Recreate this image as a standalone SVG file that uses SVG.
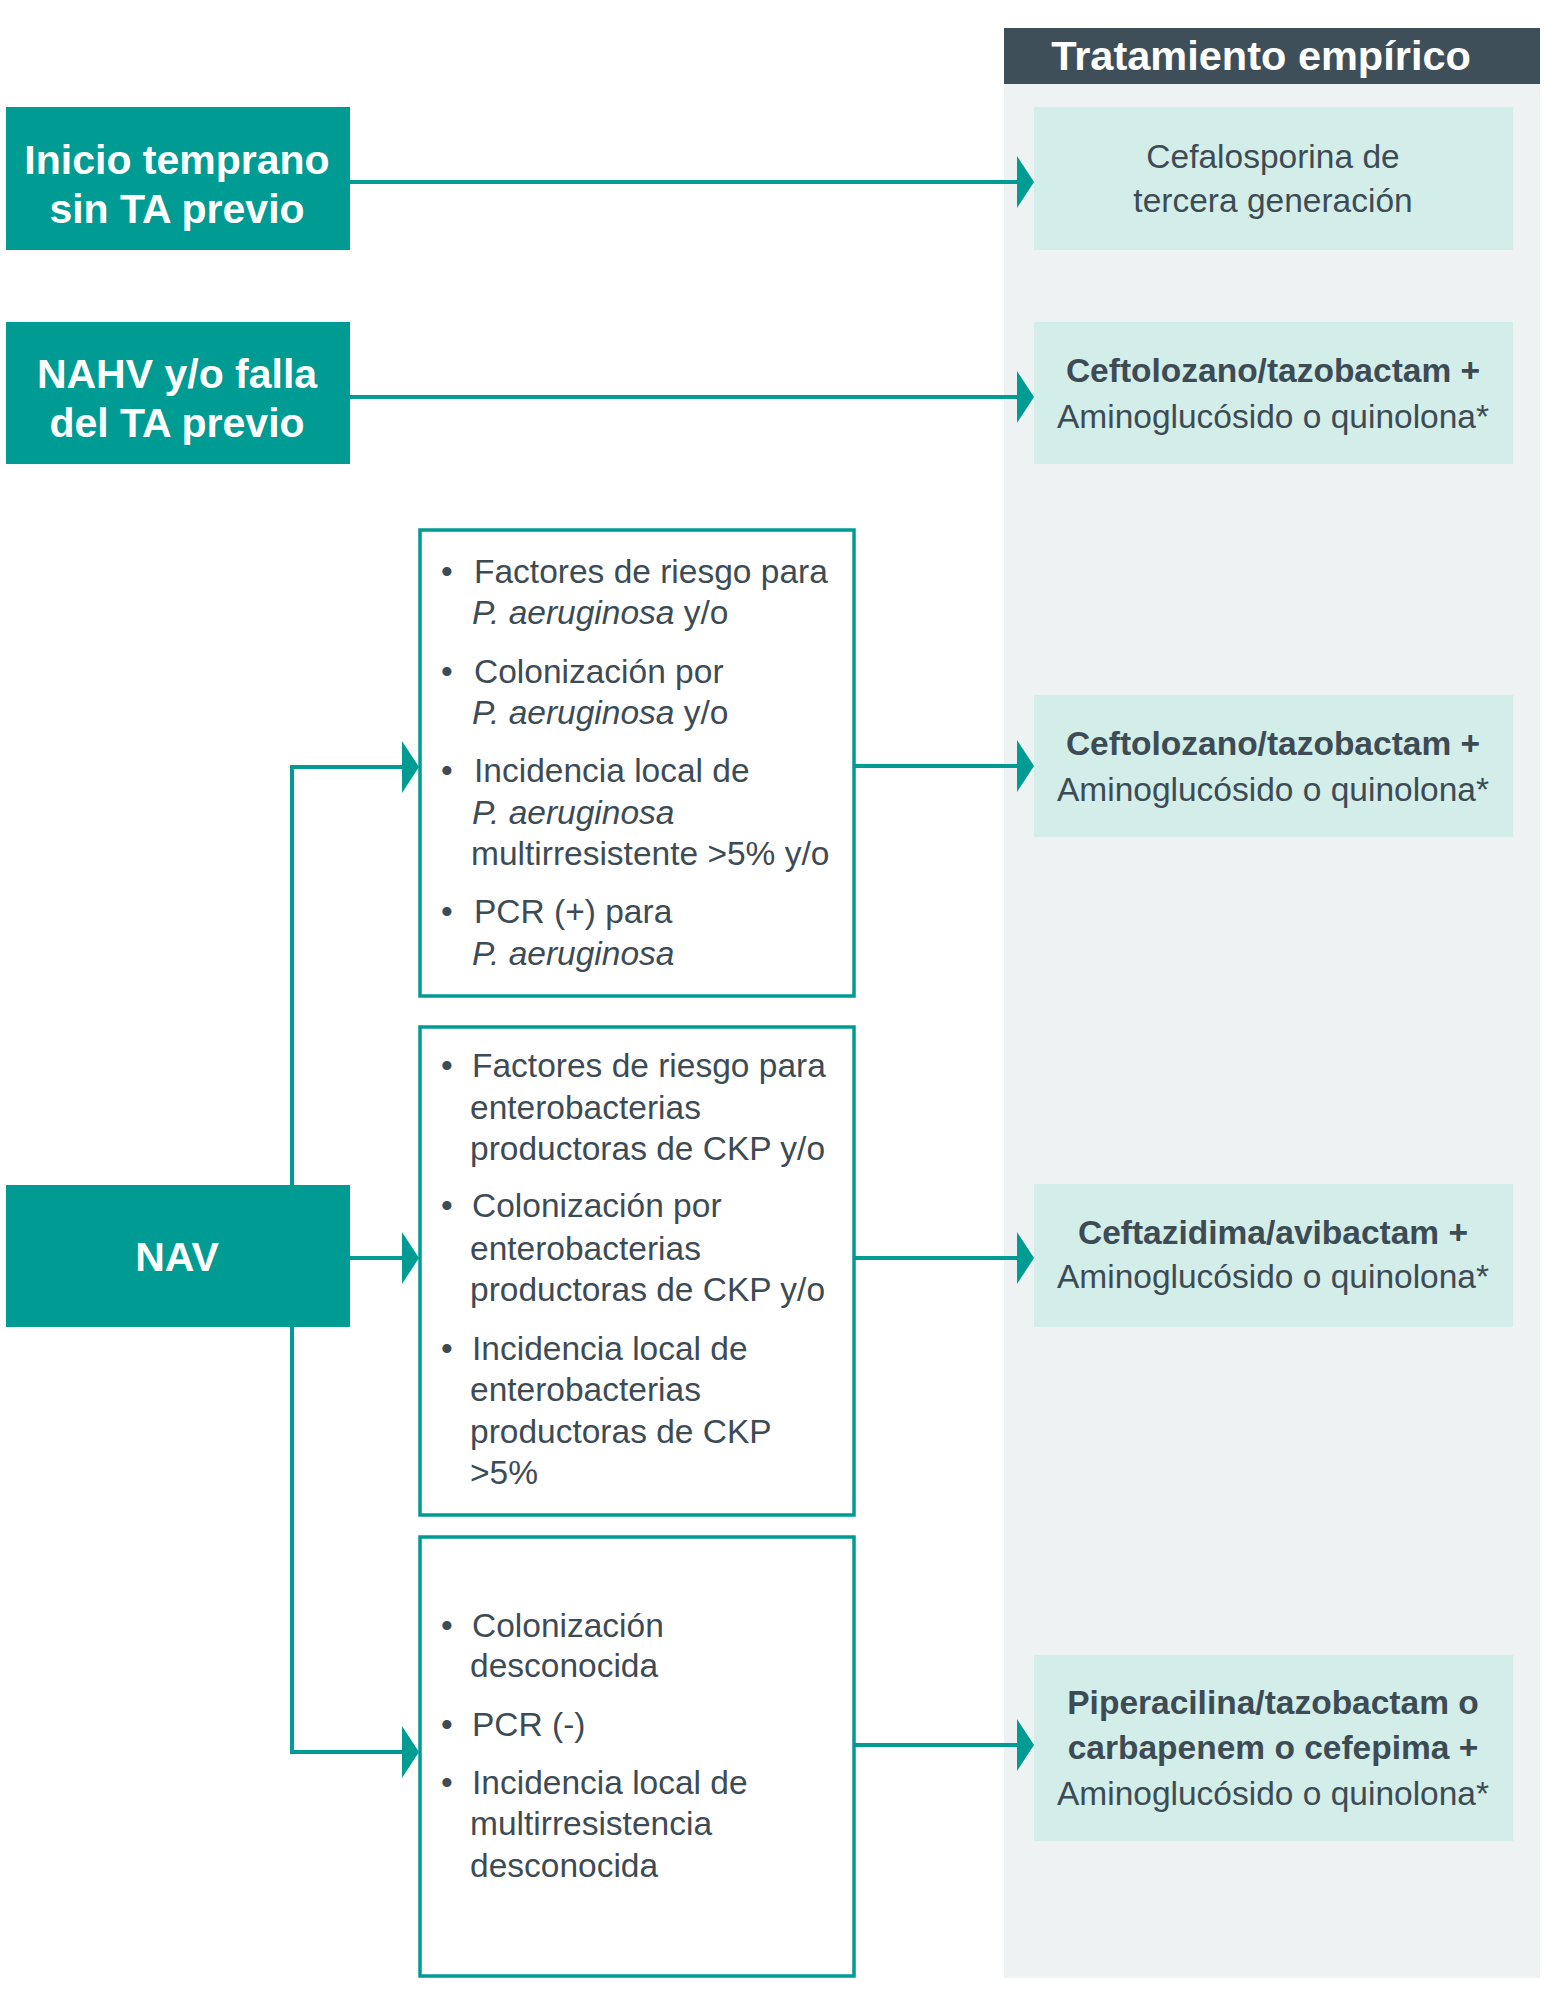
<svg xmlns="http://www.w3.org/2000/svg" width="1544" height="2001" viewBox="0 0 1544 2001">
<defs>
<style>
.lbl{font-family:"Liberation Sans",Arial,sans-serif;font-weight:bold;font-size:41px;fill:#ffffff;text-anchor:middle}
.hdr{font-family:"Liberation Sans",Arial,sans-serif;font-weight:bold;font-size:41.5px;fill:#ffffff;text-anchor:middle}
.body{font-family:"Liberation Sans",Arial,sans-serif;font-size:33.5px;fill:#3D4B55}
.ctr{text-anchor:middle}
.b{font-weight:bold}
.it{font-style:italic}
.src{fill:#009B93}
.crit{fill:#ffffff;stroke:#009B93;stroke-width:3.5}
.tx{fill:#D3EDE8}
.conn{stroke:#009B93;stroke-width:4;fill:none}
.head{fill:#009B93}
</style>
<polygon id="ah" points="-17,-26 0,0 -17,26"/>
</defs>
<rect width="1544" height="2001" fill="#ffffff"/>
<g id="column">
<rect x="1004" y="84" width="536" height="1894" fill="#EEF2F2"/>
<rect x="1004" y="28" width="536" height="56" fill="#3F4F5A"/>
<text class="hdr" x="1261" y="70">Tratamiento empírico</text>
</g>
<g id="connectors">
<path class="conn" d="M350,182 H1018"/>
<path class="conn" d="M350,397 H1018"/>
<path class="conn" d="M403,767 H292 V1752 H403"/>
<path class="conn" d="M349,1258 H403"/>
<path class="conn" d="M854,766 H1018"/>
<path class="conn" d="M854,1258 H1018"/>
<path class="conn" d="M854,1745 H1018"/>
<use href="#ah" class="head" x="1034" y="182"/>
<use href="#ah" class="head" x="1034" y="397"/>
<use href="#ah" class="head" x="419" y="767"/>
<use href="#ah" class="head" x="419" y="1258"/>
<use href="#ah" class="head" x="419" y="1752"/>
<use href="#ah" class="head" x="1034" y="766"/>
<use href="#ah" class="head" x="1034" y="1258"/>
<use href="#ah" class="head" x="1034" y="1745"/>
</g>
<g id="node-inicio">
<rect class="src" x="6" y="107" width="344" height="143"/>
<text class="lbl" x="177" y="174">Inicio temprano</text>
<text class="lbl" x="177" y="223">sin TA previo</text>
</g>
<g id="node-nahv">
<rect class="src" x="6" y="322" width="344" height="142"/>
<text class="lbl" x="177" y="388">NAHV y/o falla</text>
<text class="lbl" x="177" y="437">del TA previo</text>
</g>
<g id="node-nav">
<rect class="src" x="6" y="1185" width="344" height="142"/>
<text class="lbl" x="177" y="1271">NAV</text>
</g>
<g id="node-crit-pa">
<rect class="crit" x="420" y="530" width="434" height="466"/>
<text class="body" y="583"><tspan x="441">•</tspan><tspan x="474">Factores de riesgo para</tspan></text>
<text class="body" x="472" y="624"><tspan class="it">P. aeruginosa</tspan> y/o</text>
<text class="body" y="683"><tspan x="441">•</tspan><tspan x="474">Colonización por</tspan></text>
<text class="body" x="472" y="724"><tspan class="it">P. aeruginosa</tspan> y/o</text>
<text class="body" y="782"><tspan x="441">•</tspan><tspan x="474">Incidencia local de</tspan></text>
<text class="body it" x="472" y="824">P. aeruginosa</text>
<text class="body" x="471" y="865">multirresistente &gt;5% y/o</text>
<text class="body" y="923"><tspan x="441">•</tspan><tspan x="474">PCR (+) para</tspan></text>
<text class="body it" x="472" y="965">P. aeruginosa</text>
</g>
<g id="node-crit-ckp">
<rect class="crit" x="420" y="1027" width="434" height="488"/>
<text class="body" y="1077"><tspan x="441">•</tspan><tspan x="472">Factores de riesgo para</tspan></text>
<text class="body" x="470" y="1119">enterobacterias</text>
<text class="body" x="470" y="1160">productoras de CKP y/o</text>
<text class="body" y="1217"><tspan x="441">•</tspan><tspan x="472">Colonización por</tspan></text>
<text class="body" x="470" y="1260">enterobacterias</text>
<text class="body" x="470" y="1301">productoras de CKP y/o</text>
<text class="body" y="1360"><tspan x="441">•</tspan><tspan x="472">Incidencia local de</tspan></text>
<text class="body" x="470" y="1401">enterobacterias</text>
<text class="body" x="470" y="1443">productoras de CKP</text>
<text class="body" x="470" y="1484">&gt;5%</text>
</g>
<g id="node-crit-unknown">
<rect class="crit" x="420" y="1537" width="434" height="439"/>
<text class="body" y="1637"><tspan x="441">•</tspan><tspan x="472">Colonización</tspan></text>
<text class="body" x="470" y="1677">desconocida</text>
<text class="body" y="1736"><tspan x="441">•</tspan><tspan x="472">PCR (-)</tspan></text>
<text class="body" y="1794"><tspan x="441">•</tspan><tspan x="472">Incidencia local de</tspan></text>
<text class="body" x="470" y="1835">multirresistencia</text>
<text class="body" x="470" y="1877">desconocida</text>
</g>
<g id="node-tx-cefalosporina">
<rect class="tx" x="1034" y="107" width="479" height="143"/>
<text class="body ctr" x="1273" y="168">Cefalosporina de</text>
<text class="body ctr" x="1273" y="212">tercera generación</text>
</g>
<g id="node-tx-ceftolozano-1">
<rect class="tx" x="1034" y="322" width="479" height="142"/>
<text class="body ctr b" x="1273" y="382">Ceftolozano/tazobactam +</text>
<text class="body ctr" x="1273" y="428">Aminoglucósido o quinolona*</text>
</g>
<g id="node-tx-ceftolozano-2">
<rect class="tx" x="1034" y="695" width="479" height="142"/>
<text class="body ctr b" x="1273" y="755">Ceftolozano/tazobactam +</text>
<text class="body ctr" x="1273" y="801">Aminoglucósido o quinolona*</text>
</g>
<g id="node-tx-ceftazidima">
<rect class="tx" x="1034" y="1184" width="479" height="143"/>
<text class="body ctr b" x="1273" y="1244">Ceftazidima/avibactam +</text>
<text class="body ctr" x="1273" y="1288">Aminoglucósido o quinolona*</text>
</g>
<g id="node-tx-piperacilina">
<rect class="tx" x="1034" y="1655" width="479" height="186"/>
<text class="body ctr b" x="1273" y="1714">Piperacilina/tazobactam o</text>
<text class="body ctr b" x="1273" y="1759">carbapenem o cefepima +</text>
<text class="body ctr" x="1273" y="1805">Aminoglucósido o quinolona*</text>
</g>
</svg>
